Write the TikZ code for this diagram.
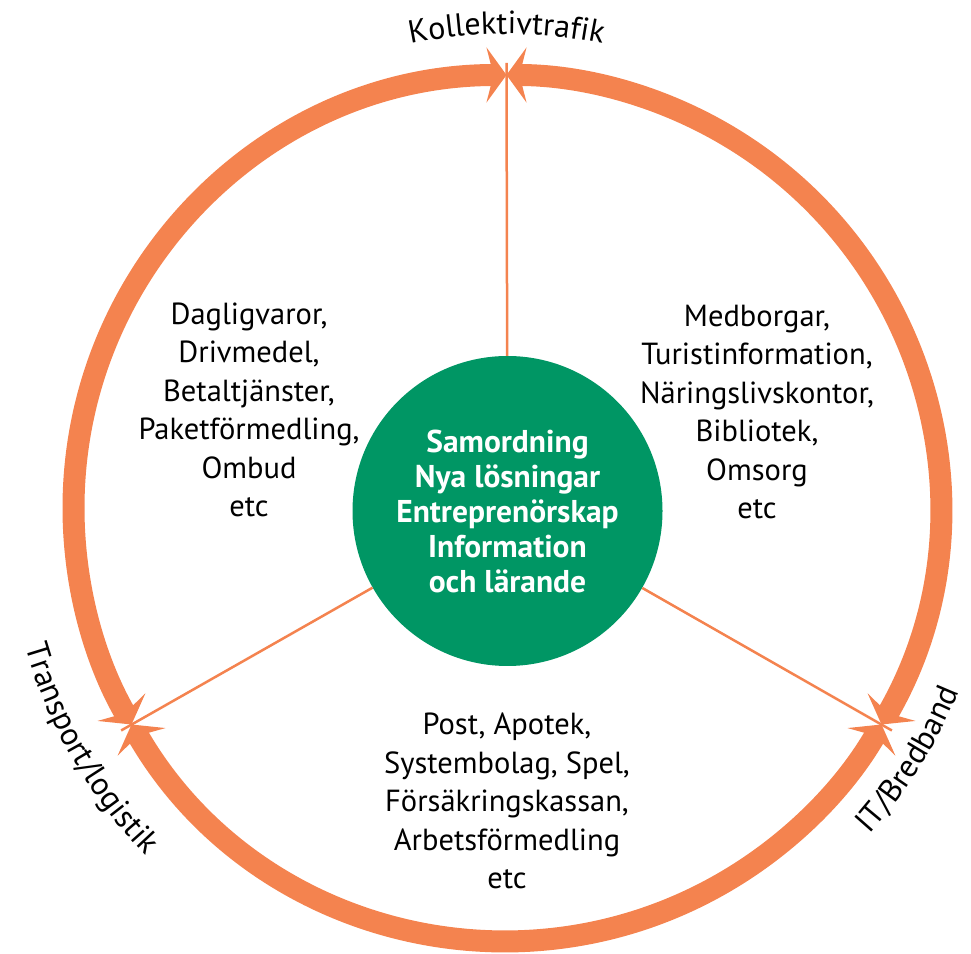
\documentclass[tikz,border=0pt]{standalone}
\usepackage{fontspec}
\setmainfont{PT Sans}
\usetikzlibrary{arrows.meta,calc,decorations.text}
\definecolor{ringorange}{RGB}{244,131,79}
\definecolor{hubgreen}{RGB}{0,150,100}
\tikzset{
  ringtip/.tip={Stealth[length=20pt,width=55pt,inset=7pt]},
  ring/.style={line width=22pt, draw=ringorange, ringtip-ringtip},
  spoke/.style={draw=ringorange, line width=2.5pt},
  body/.style={font=\fontsize{30.5}{38.5}\selectfont, align=center, text=black},
  hubstyle/.style={circle, fill=hubgreen, minimum size=310pt, inner sep=0pt,
     text=white, align=center, font=\fontsize{31.5}{35}\selectfont\bfseries},
  curvelabel/.style={decorate, decoration={text along path, text align=center,
     text={|\fontsize{32}{34}\selectfont|#1}}}
}
\begin{document}
\begin{tikzpicture}[x=1pt,y=1pt]
\useasboundingbox (0,0) rectangle (971,953);
\coordinate (C) at (506.5,445);
\coordinate (mTop) at ($(C)+(90:433)$);
\coordinate (mLeft) at ($(C)+(210:433)$);
\coordinate (mRight) at ($(C)+(330:433)$);
\coordinate (eTop) at ($(C)+(90:445)$);
\coordinate (eLeft) at ($(C)+(210:445)$);
\coordinate (eRight) at ($(C)+(330:445)$);
% ring
\draw[ring] (mTop) arc[start angle=90,end angle=210,radius=433];
\draw[ring] (mLeft) arc[start angle=210,end angle=330,radius=433];
\draw[ring] (mRight) arc[start angle=330,end angle=450,radius=433];
% hub
\node[hubstyle] (hub) at ($(C)+(1,-3)$) {Samordning\\Nya lösningar\\Entreprenörskap\\Information\\och lärande};
\draw[spoke] (hub) -- (eTop);
\draw[spoke] (hub) -- (eLeft);
\draw[spoke] (hub) -- (eRight);
% lists
\node[body] (leftlist) at (249,543) {Dagligvaror,\\Drivmedel,\\Betaltjänster,\\Paketförmedling,\\Ombud\\etc};
\node[body] (rightlist) at (757,541) {Medborgar,\\Turistinformation,\\Näringslivskontor,\\Bibliotek,\\Omsorg\\etc};
\node[body] (bottomlist) at (507,152) {Post, Apotek,\\Systembolag, Spel,\\Försäkringskassan,\\Arbetsförmedling\\etc};
% curved labels
\path[curvelabel={Kollektivtrafik}] ($(C)+(115:474)$) arc[start angle=115,end angle=65,radius=474];
\path[curvelabel={Transport/logistik}] ($(C)+(180:501)$) arc[start angle=180,end angle=240,radius=501];
\path[curvelabel={IT/Bredband}] ($(C)+(298:488)$) arc[start angle=298,end angle=358,radius=488];
\end{tikzpicture}
\end{document}
